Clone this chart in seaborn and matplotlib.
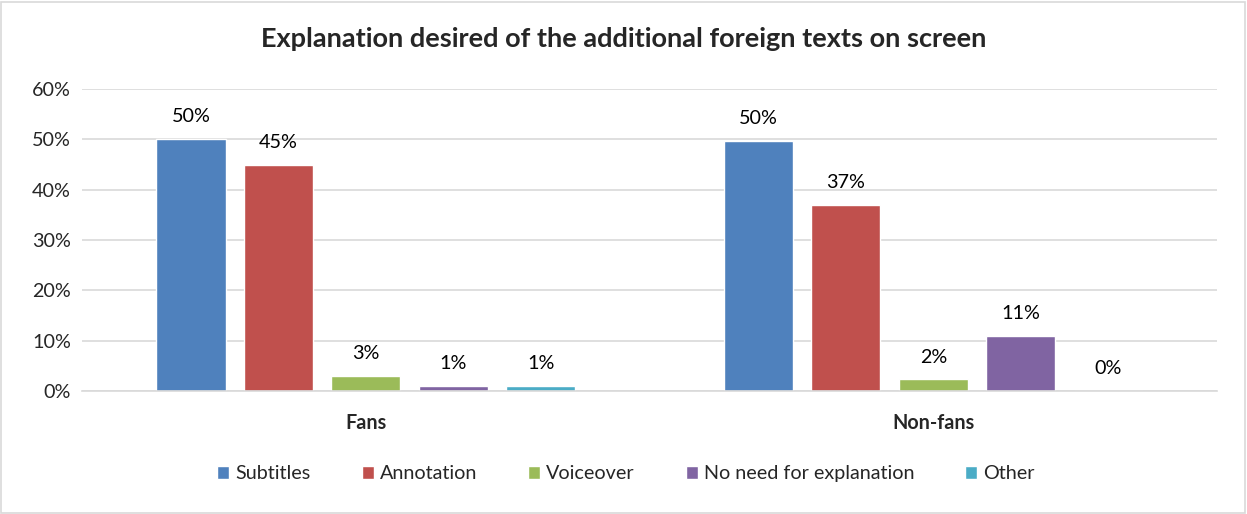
import numpy as np
import pandas as pd
import matplotlib
matplotlib.use("Agg")
import matplotlib.pyplot as plt
from matplotlib.patches import Rectangle
import seaborn as sns

groups = ["Fans", "Non-fans"]
answers = ["Subtitles", "Annotation", "Voiceover", "No need for explanation", "Other"]
fans = [50.1, 44.9, 3.0, 1.0, 1.0]
non_fans = [49.6, 37.0, 2.3, 10.9, 0.0]
colors = ["#4F81BD", "#C0504D", "#9BBB59", "#8064A2", "#4BACC6"]

df = pd.DataFrame({
    "group": [groups[0]] * len(answers) + [groups[1]] * len(answers),
    "answer": answers + answers,
    "value": fans + non_fans,
})

sns.set_style("white")
plt.rcParams["font.family"] = ["Lato", "DejaVu Sans"]
fs = 14.2

fig = plt.figure(figsize=(12.47, 5.14), dpi=100)
ax = fig.add_axes([0.0658, 0.2393, 0.9102, 0.5875])

sns.barplot(data=df, x="group", y="value", hue="answer", hue_order=answers,
            palette=colors, width=0.77, gap=0.21, ax=ax, legend=True,
            saturation=1, errorbar=None)

for cont in ax.containers:
    labs = ["%d%%" % round(b.get_height()) for b in cont]
    ax.bar_label(cont, labels=labs, padding=10, fontsize=fs, color="#000000")

ax.set_ylim(0, 60)
ax.set_xlim(-0.5, 1.5)
ax.set_yticks(np.arange(0, 61, 10))
ax.set_yticklabels(["%d%%" % v for v in range(0, 61, 10)], fontsize=fs)
ax.set_xticks([0, 1])
ax.set_xticklabels(groups, fontsize=fs, fontweight="bold")
ax.tick_params(axis="both", length=0, pad=8)
ax.tick_params(axis="x", pad=16)
ax.set_xlabel("")
ax.set_ylabel("")
ax.yaxis.grid(True, color="#D9D9D9", linewidth=1.2)
ax.set_axisbelow(True)
for s in ["top", "right", "left"]:
    ax.spines[s].set_visible(False)
ax.spines["bottom"].set_color("#D9D9D9")
ax.spines["bottom"].set_linewidth(1.2)

ax.legend(loc="center", bbox_to_anchor=(0.502, 0.078), bbox_transform=fig.transFigure,
          ncol=5, frameon=False, fontsize=fs, handlelength=0.6, handleheight=0.6,
          handletextpad=0.3, columnspacing=2.6)

fig.text(0.5, 0.925, "Explanation desired of the additional foreign texts on screen",
         ha="center", va="center", fontsize=19.5, fontweight="bold")

fig.patches.append(Rectangle((0.001, 0.002), 0.997, 0.995, transform=fig.transFigure,
                             fill=False, edgecolor="#D9D9D9", linewidth=1.2))

fig.savefig("out.png", dpi=100)
